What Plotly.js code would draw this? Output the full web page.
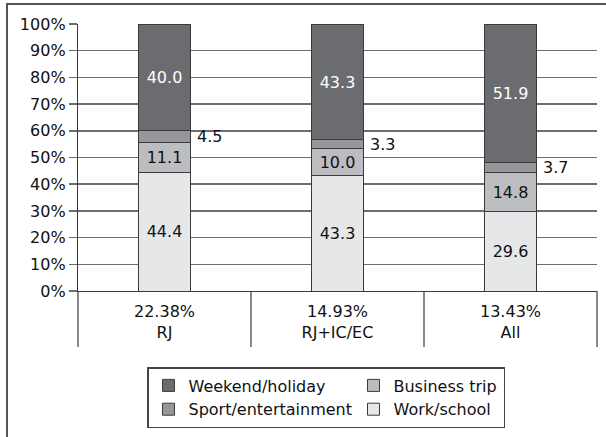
<!DOCTYPE html>
<html>
<head>
<meta charset="utf-8">
<script src="https://cdn.plot.ly/plotly-3.0.1.min.js"></script>
<style>
  html, body { margin: 0; padding: 0; background: #fff; }
  #chart { width: 606px; height: 437px; }
</style>
</head>
<body>
<div id="chart"></div>
<script>
// ---- data ----
const shares = ['22.38%', '14.93%', '13.43%'];
const groups = ['RJ', 'RJ+IC/EC', 'All'];
const workSchool = [44.4, 43.3, 29.6];
const businessTrip = [11.1, 10.0, 14.8];
const sportEntertainment = [4.5, 3.3, 3.7];
const weekendHoliday = [40.0, 43.3, 51.9];
const yTicks = [0, 10, 20, 30, 40, 50, 60, 70, 80, 90, 100];

// ---- build ----
const cats = groups.map((g, i) => shares[i] + '<br>' + g);
const FONT = 'DejaVu Sans, sans-serif';
const outline = { color: '#3a3a3a', width: 1 };
const barW = 0.3;

function barTrace(name, vals, color, txtColor, showText, rank, lw) {
  return {
    type: 'bar', name: name, x: cats, y: vals, width: barW,
    marker: { color: color, line: outline },
    text: showText ? vals.map(v => v.toFixed(1)) : undefined,
    textposition: showText ? 'inside' : 'none',
    insidetextanchor: 'middle',
    textangle: 0,
    textfont: { family: FONT, size: 16, color: txtColor },
    hoverinfo: 'skip',
    legendrank: rank,
    legendwidth: lw
  };
}

const traces = [
  barTrace('Work/school', workSchool, '#e6e7e8', '#111', true, 4, 105),
  barTrace('Business trip', businessTrip, '#bcbdc0', '#111', true, 2, 105),
  barTrace('Sport/entertainment', sportEntertainment, '#96979a', '#111', false, 3, 160),
  barTrace('Weekend/holiday', weekendHoliday, '#6b6c6f', '#ffffff', true, 1, 160)
];

// labels for the thin sport segment, placed to the right of each bar
const annotations = sportEntertainment.map((v, i) => ({
  x: i + barW / 2, xref: 'x',
  y: workSchool[i] + businessTrip[i] + v / 2, yref: 'y',
  text: v.toFixed(1), showarrow: false, xanchor: 'left', yanchor: 'middle',
  xshift: 5, font: { family: FONT, size: 16, color: '#111' }
}));

// category table lines below the axis + outer frame
const L = 78, T = 24, W = 519, H = 267;
const tableDepth = 56;
const shapes = [];
for (let i = 0; i <= groups.length; i++) {
  shapes.push({
    type: 'line', xref: 'paper', yref: 'paper',
    x0: i / groups.length, x1: i / groups.length,
    y0: 0, y1: -tableDepth / H,
    line: { color: '#3a3a3a', width: 1.2 }
  });
}
// outer frame (top and left visible)
shapes.push({ type: 'line', xref: 'paper', yref: 'paper',
  x0: (6 - L) / W, x1: (610 - L) / W, y0: (T + H - 4) / H, y1: (T + H - 4) / H,
  line: { color: '#555', width: 2 } });
shapes.push({ type: 'line', xref: 'paper', yref: 'paper',
  x0: (7 - L) / W, x1: (7 - L) / W, y0: (T + H - 4) / H, y1: (T + H - 440) / H,
  line: { color: '#555', width: 2 } });

const layout = {
  width: 606, height: 437,
  margin: { l: L, r: 606 - L - W, t: T, b: 437 - T - H },
  paper_bgcolor: '#fff', plot_bgcolor: '#fff',
  barmode: 'stack',
  font: { family: FONT, size: 16, color: '#111' },
  xaxis: {
    type: 'category', range: [-0.5, groups.length - 0.5],
    showgrid: false, zeroline: false, showline: true,
    linecolor: '#3a3a3a', linewidth: 1.2,
    ticks: '', tickfont: { family: FONT, size: 16, color: '#111' },
    ticklabelstandoff: 6
  },
  yaxis: {
    range: [0, 100], tickvals: yTicks, ticktext: yTicks.map(v => v + '%'),
    showgrid: true, gridcolor: '#6e6e6e', gridwidth: 1.5,
    zeroline: false, showline: true, linecolor: '#3a3a3a', linewidth: 1.2,
    ticks: 'outside', ticklen: 8, tickcolor: '#6e6e6e', tickwidth: 1.5,
    tickfont: { family: FONT, size: 16, color: '#111' }
  },
  showlegend: true,
  legend: {
    orientation: 'h', traceorder: 'normal',
    x: (147 - L) / W, xanchor: 'left',
    y: (T + H - 367) / H, yanchor: 'top',
    bordercolor: '#444', borderwidth: 1.5, bgcolor: '#fff',
    font: { family: FONT, size: 16, color: '#111' }
  },
  annotations: annotations,
  shapes: shapes
};

Plotly.newPlot('chart', traces, layout, { displayModeBar: false, staticPlot: true });
</script>
</body>
</html>
